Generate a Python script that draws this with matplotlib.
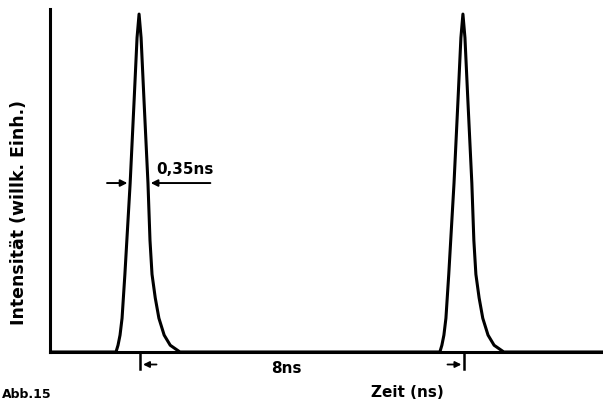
import numpy as np
import matplotlib
matplotlib.use("Agg")
import matplotlib.pyplot as plt

# pulse shape (time rel. to peak in ns, normalised intensity)
pulse_t = [-0.57, -0.52, -0.47, -0.42, -0.35, -0.22, -0.12, -0.05, 0.0,
           0.05, 0.12, 0.22, 0.27, 0.32, 0.40, 0.49, 0.62, 0.77, 0.89, 1.01]
pulse_i = [0.0, 0.02, 0.05, 0.10, 0.23, 0.50, 0.75, 0.93, 1.0,
           0.93, 0.75, 0.50, 0.33, 0.23, 0.16, 0.10, 0.05, 0.02, 0.01, 0.0]
peak_times = [0.0, 8.0]          # ns
fwhm_label = "0,35ns"
spacing_label = "8ns"

x_min, x_max = -2.2, 11.46
y_max = 1.015

# ── Figure ─────────────────────────────────────────────────────────────────────
fig = plt.figure(figsize=(6.03, 4.02), dpi=100)
ax = fig.add_axes([50 / 603, 49 / 402, 553 / 603, 343 / 402])

# baseline + both pulses as one trace
t_all = [x_min]
i_all = [0.0]
for t0 in peak_times:
    t_all += [t0 + t for t in pulse_t]
    i_all += pulse_i
t_all.append(x_max)
i_all.append(0.0)
ax.plot(t_all, i_all, color="black", lw=2.2, solid_joinstyle="round")

ax.set_xlim(x_min, x_max)
ax.set_ylim(0, y_max)
ax.set_xticks([])
ax.set_yticks([])
for side in ["top", "right"]:
    ax.spines[side].set_visible(False)
for side in ["left", "bottom"]:
    ax.spines[side].set_linewidth(2.2)

# FWHM arrows at half maximum
half = 0.5
left_edge = pulse_t[pulse_i.index(half)]
right_edge = pulse_t[len(pulse_i) - 1 - pulse_i[::-1].index(half)]
arrow = dict(arrowstyle="-|>", color="black", lw=1.4, mutation_scale=10)
ax.annotate("", xy=(left_edge, half), xytext=(-0.86, half), arrowprops=arrow)
ax.annotate("", xy=(right_edge, half), xytext=(1.83, half), arrowprops=arrow)
ax.text(1.83, half + 0.02, fwhm_label, ha="right", va="bottom",
        fontsize=11, fontweight="bold")

# spacing marks below the axis
for t0, tail in zip(peak_times, [0.5, 7.55]):
    ax.plot([t0 + 0.03, t0 + 0.03], [0, -0.05], color="black", lw=1.8,
            clip_on=False)
    ax.annotate("", xy=(t0 + 0.03, -0.037), xytext=(tail, -0.037),
                arrowprops=dict(arrowstyle="-|>", color="black", lw=1.3,
                                mutation_scale=9),
                annotation_clip=False)
ax.text(3.65, -0.045, spacing_label, ha="center", va="center",
        fontsize=11, fontweight="bold")

ax.set_ylabel("Intensität (willk. Einh.)", fontsize=12.5, fontweight="bold")
ax.yaxis.set_label_coords(-22 / 553, 0.41)

fig.text(407 / 603, 1 - 393 / 402, "Zeit (ns)", ha="center", va="center",
         fontsize=11, fontweight="bold")
fig.text(2 / 603, 1 - 395 / 402, "Abb.15", ha="left", va="center",
         fontsize=9, fontweight="bold")

fig.savefig("out.png", dpi=100)
